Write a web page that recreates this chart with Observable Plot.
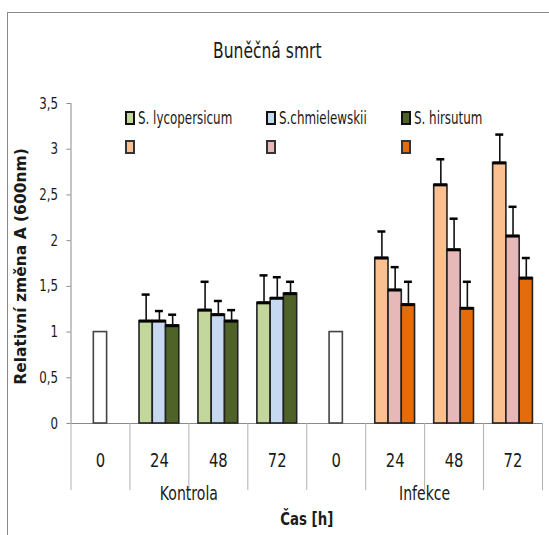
<!DOCTYPE html>
<html>
<head>
<meta charset="utf-8">
<script src="https://cdn.jsdelivr.net/npm/d3@7"></script>
<script src="https://cdn.jsdelivr.net/npm/@observablehq/plot@0.6"></script>
<style>
  body { margin: 0; background: #fff; }
  #chart {
    position: relative; width: 549px; height: 535px; overflow: hidden;
    font-family: "DejaVu Sans", sans-serif;
    color: #1a1a1a;
  }
  #chart svg { position: absolute; left: 0; top: 0; }
  .frame-border { position: absolute; left: 7px; top: 12px; width: 600px; height: 600px; border-left: 1px solid #8a8a8a; border-top: 1px solid #8a8a8a; }
  .title { position: absolute; top: 39px; left: 117px; width: 300px; text-align: center; font-size: 21px; }
  .title span { display: inline-block; transform: scaleX(0.74); transform-origin: center; }
  .legend-item { position: absolute; display: flex; align-items: center; font-size: 17px; white-space: nowrap; }
  .legend-item .name { display: inline-block; transform: scaleX(0.7); transform-origin: left center; }
  .swatch { width: 6px; height: 10px; border: 2px solid #111; margin-right: 3px; }
</style>
</head>
<body>
<div id="chart">
  <div class="frame-border"></div>
</div>
<script>
// Sampling times within each group and the two experimental groups
const hours = ["0", "24", "48", "72"];
const groups = ["Kontrola", "Infekce"];
const species = ["S. lycopersicum", "S.chmielewskii", "S. hirsutum"];

// Relative value at time 0 (reference) for each group
const referenceValues = [1, 1];

// Means at 24, 48, 72 h — control
const lycopersicumKontrola = [1.12, 1.24, 1.32];
const chmielewskiiKontrola = [1.12, 1.19, 1.37];
const hirsutumKontrola = [1.07, 1.12, 1.42];
// Means at 24, 48, 72 h — infection
const lycopersicumInfekce = [1.81, 2.61, 2.85];
const chmielewskiiInfekce = [1.46, 1.90, 2.05];
const hirsutumInfekce = [1.30, 1.26, 1.59];

// Standard deviations (upper error bars)
const lycopersicumKontrolaSd = [0.29, 0.31, 0.30];
const chmielewskiiKontrolaSd = [0.11, 0.15, 0.23];
const hirsutumKontrolaSd = [0.12, 0.12, 0.13];
const lycopersicumInfekceSd = [0.29, 0.28, 0.31];
const chmielewskiiInfekceSd = [0.25, 0.34, 0.32];
const hirsutumInfekceSd = [0.25, 0.29, 0.22];

const kontrolaColors = ["#c3d69b", "#c6d9f1", "#4f6228"];
const infekceColors = ["#fac090", "#e6b9b8", "#e46c0a"];

const yTicks = [0, 0.5, 1, 1.5, 2, 2.5, 3, 3.5];
const yTitle = "Relativní změna A (600nm)";
const xTitle = "Čas [h]";

// ---- table for the marks ----
const means = [
  [lycopersicumKontrola, chmielewskiiKontrola, hirsutumKontrola],
  [lycopersicumInfekce, chmielewskiiInfekce, hirsutumInfekce]
];
const sds = [
  [lycopersicumKontrolaSd, chmielewskiiKontrolaSd, hirsutumKontrolaSd],
  [lycopersicumInfekceSd, chmielewskiiInfekceSd, hirsutumInfekceSd]
];
const palettes = [kontrolaColors, infekceColors];

const barWidth = 0.225;            // fraction of one category slot
const capHalf = barWidth * 0.3;
const perGroup = hours.length;

const categories = [];             // one slot per (group, hour)
groups.forEach((g, gi) => hours.forEach((h, hi) => categories.push({group: g, hour: h, index: gi * perGroup + hi})));

const bars = [];
groups.forEach((g, gi) => {
  means[gi].forEach((values, si) => {
    values.forEach((v, ti) => {
      const index = gi * perGroup + ti + 1;
      const start = index + (1 - species.length * barWidth) / 2 + si * barWidth;
      bars.push({group: g, species: species[si], value: v, sd: sds[gi][si][ti],
                 color: palettes[gi][si], x1: start, x2: start + barWidth, xc: start + barWidth / 2});
    });
  });
});
const refs = referenceValues.map((v, gi) => {
  const index = gi * perGroup;
  return {value: v, x1: index + 0.5 - barWidth / 2, x2: index + 0.5 + barWidth / 2};
});

const boundaries = d3.range(groups.length * perGroup + 1);
const groupCenters = groups.map((g, gi) => ({label: g, x: gi * perGroup + perGroup / 2}));
const decimalComma = d => String(d).replace(".", ",");
const axisGray = "#8a8a8a";

const plot = Plot.plot({
  width: 549,
  height: 535,
  marginLeft: 70.5,
  marginRight: 7,
  marginTop: 103,
  marginBottom: 112,
  x: {domain: [0, groups.length * perGroup], axis: null},
  y: {domain: [0, 3.5], axis: null},
  style: {fontFamily: "DejaVu Sans, sans-serif", fontSize: "16px", color: "#1a1a1a", background: "transparent", overflow: "visible"},
  marks: [
    // value axis: line, ticks and labels
    Plot.ruleX([0], {y1: 0, y2: 3.5, stroke: axisGray}),
    Plot.ruleY(yTicks, {y: d => d, x1: 0, x2: 0, insetLeft: -4, stroke: axisGray}),
    Plot.text(yTicks, {y: d => d, text: decimalComma, frameAnchor: "left", textAnchor: "end", dx: -13, fontSize: 16}),
    // category axis line and separators
    Plot.ruleY([0], {x1: 0, x2: groups.length * perGroup, stroke: axisGray}),
    Plot.ruleX(boundaries, {x: d => d, y1: 0, y2: 0, insetBottom: -67, stroke: "#b0b0b0"}),
    // bars
    Plot.rect(refs, {x1: "x1", x2: "x2", y1: 0, y2: "value", fill: "#fff", stroke: "#444", strokeWidth: 1.6}),
    Plot.rect(bars, {x1: "x1", x2: "x2", y1: 0, y2: "value", fill: "color", stroke: "#222", strokeWidth: 1.6}),
    Plot.ruleY(bars, {x1: "x1", x2: "x2", y: "value", stroke: "#000", strokeWidth: 3}),
    // error bars
    Plot.ruleX(bars, {x: "xc", y1: "value", y2: d => d.value + d.sd, stroke: "#111", strokeWidth: 1.6}),
    Plot.ruleY(bars, {x1: d => d.xc - capHalf, x2: d => d.xc + capHalf, y: d => d.value + d.sd, stroke: "#000", strokeWidth: 2.5}),
    // category labels
    Plot.text(categories, {x: d => d.index + 0.5, text: "hour", frameAnchor: "bottom", dy: 43, fontSize: 20}),
    Plot.text(groupCenters, {x: "x", text: "label", frameAnchor: "bottom", dy: 76, fontSize: 19}),
    Plot.text([xTitle], {frameAnchor: "bottom", dy: 101, fontSize: 18, fontWeight: "bold"}),
    Plot.text([yTitle], {frameAnchor: "left", rotate: -90, dx: -50, dy: 3, textAnchor: "middle",
      fontSize: 15.5, fontWeight: "bold", letterSpacing: "1.8px"})
  ]
});

// Condensed lettering for the axis texts (the value-axis title keeps its wide face)
d3.select(plot).selectAll("text").each(function() {
  if (this.textContent === yTitle) return;
  const t = this.getAttribute("transform") || "";
  const x = +this.getAttribute("x") || 0;
  this.setAttribute("transform", `${t} translate(${x},0) scale(0.74,1) translate(${-x},0)`);
});

const chart = document.getElementById("chart");
chart.appendChild(plot);

const title = document.createElement("div");
title.className = "title";
title.innerHTML = "<span>Buněčná smrt</span>";
chart.appendChild(title);

// legend: first row with names (control colours), second row infection colours
const legendLeft = [125, 266, 401];
species.forEach((name, i) => {
  const item = document.createElement("div");
  item.className = "legend-item";
  item.style.left = legendLeft[i] + "px";
  item.style.top = "108px";
  item.innerHTML = `<span class="swatch" style="background:${kontrolaColors[i]}"></span><span class="name">${name}</span>`;
  chart.appendChild(item);
  const item2 = document.createElement("div");
  item2.className = "legend-item";
  item2.style.left = legendLeft[i] + "px";
  item2.style.top = "140px";
  item2.innerHTML = `<span class="swatch" style="background:${infekceColors[i]};border-color:#333"></span>`;
  chart.appendChild(item2);
});
</script>
</body>
</html>
